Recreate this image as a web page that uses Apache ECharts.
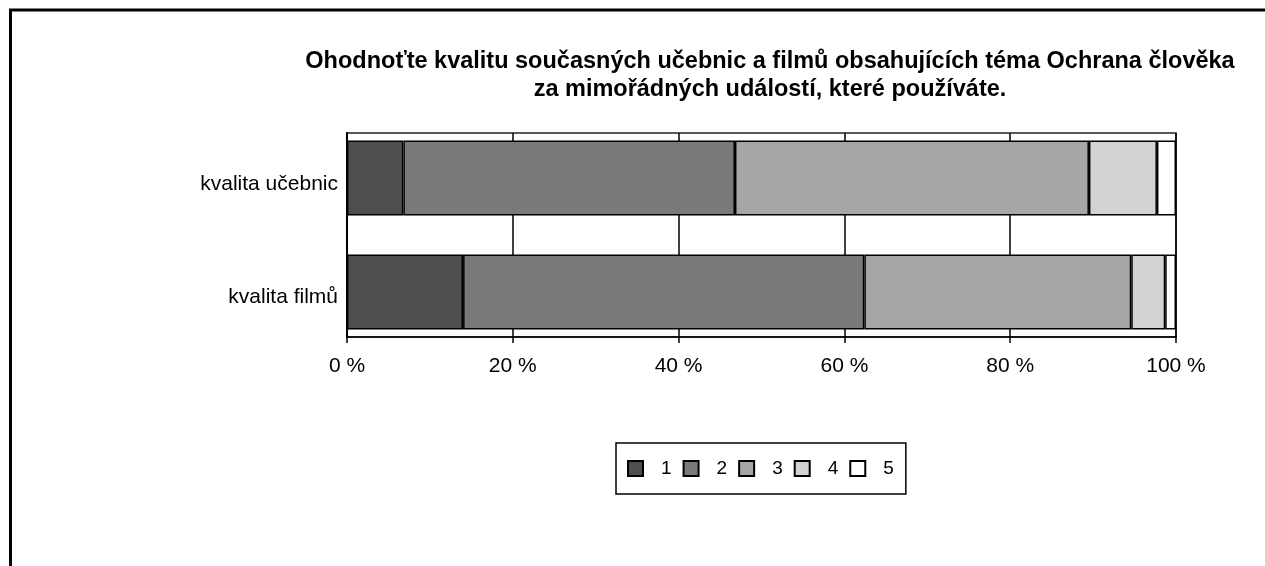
<!DOCTYPE html>
<html>
<head>
<meta charset="utf-8">
<title>Kvalita učebnic a filmů</title>
<script src="https://cdn.jsdelivr.net/npm/echarts@6/dist/echarts.min.js"></script>
<style>
  html, body { margin: 0; padding: 0; background: #fff; }
  #chart { width: 1265px; height: 566px; }
</style>
</head>
<body>
<div id="chart"></div>
<script>
// data (percent of answers per grade)
var categories = ["kvalita učebnic", "kvalita filmů"];
var grades = ["1", "2", "3", "4", "5"];
var ucebnice = [6.8, 40.0, 42.7, 8.2, 2.3];
var filmy = [14.0, 48.4, 32.2, 4.1, 1.3];
var xTickLabels = ["0 %", "20 %", "40 %", "60 %", "80 %", "100 %"];

var colors = ["#4e4e4e", "#7a7a7a", "#a6a6a6", "#d3d3d3", "#ffffff"];

var chart = echarts.init(document.getElementById("chart"));

// two stacks so each row sits in its own slot (Excel pushes the bars apart)
var series = [];
grades.forEach(function (g, i) {
  var common = {
    name: g,
    type: "bar",
    barWidth: 75,
    barGap: "-84%",
    itemStyle: { color: colors[i], borderColor: "#000", borderWidth: 1.5 },
    emphasis: { disabled: true }
  };
  series.push(Object.assign({}, common, { stack: "u", data: [ucebnice[i], null] }));
  series.push(Object.assign({}, common, { stack: "f", data: [null, filmy[i]] }));
});

chart.setOption({
  animation: false,
  textStyle: { fontFamily: "Liberation Sans, Arial, sans-serif" },
  title: {
    text: "Ohodnoťte kvalitu současných učebnic a filmů obsahujících téma Ochrana člověka\nza mimořádných událostí, které používáte.",
    left: 765,
    top: 43,
    textAlign: "center",
    textStyle: { fontSize: 23.5, fontWeight: "bold", color: "#000", lineHeight: 28 }
  },
  graphic: [
    { type: "line", shape: { x1: 9, y1: 10, x2: 1265, y2: 10 }, style: { stroke: "#000", lineWidth: 3 } },
    { type: "line", shape: { x1: 10.5, y1: 9, x2: 10.5, y2: 566 }, style: { stroke: "#000", lineWidth: 3 } }
  ],
  grid: {
    left: 347,
    right: 89,
    top: 133,
    height: 204,
    show: true,
    borderColor: "#222",
    borderWidth: 1.5
  },
  legend: {
    data: grades,
    left: 616,
    top: 443,
    icon: "rect",
    itemWidth: 15,
    itemHeight: 15,
    itemGap: 11,
    padding: [16, 12, 16, 11],
    borderColor: "#000",
    borderWidth: 1.5,
    selectedMode: false,
    textStyle: { fontSize: 19, color: "#000", padding: [3, 0, 0, 13] }
  },
  xAxis: {
    type: "value",
    min: 0,
    max: 100,
    interval: 20,
    axisLine: { show: true, lineStyle: { color: "#000", width: 1.5 } },
    axisTick: { show: true, length: 6, lineStyle: { color: "#000", width: 1.5 } },
    splitLine: { show: true, lineStyle: { color: "#000", width: 1.5 } },
    axisLabel: {
      color: "#000",
      fontSize: 21,
      margin: 19,
      formatter: function (v) { return xTickLabels[Math.round(v / 20)]; }
    }
  },
  yAxis: {
    type: "category",
    inverse: true,
    data: categories,
    axisLine: { show: true, lineStyle: { color: "#000", width: 2 } },
    axisTick: { show: false },
    axisLabel: {
      color: "#000",
      fontSize: 21,
      margin: 9,
      // the lower label sits a bit lower in the original
      formatter: function (v, i) { return i === 1 ? "{low|" + v + "}" : v; },
      rich: { low: { fontSize: 21, color: "#000", padding: [22, 0, 0, 0] } }
    }
  },
  series: series
});
</script>
</body>
</html>
